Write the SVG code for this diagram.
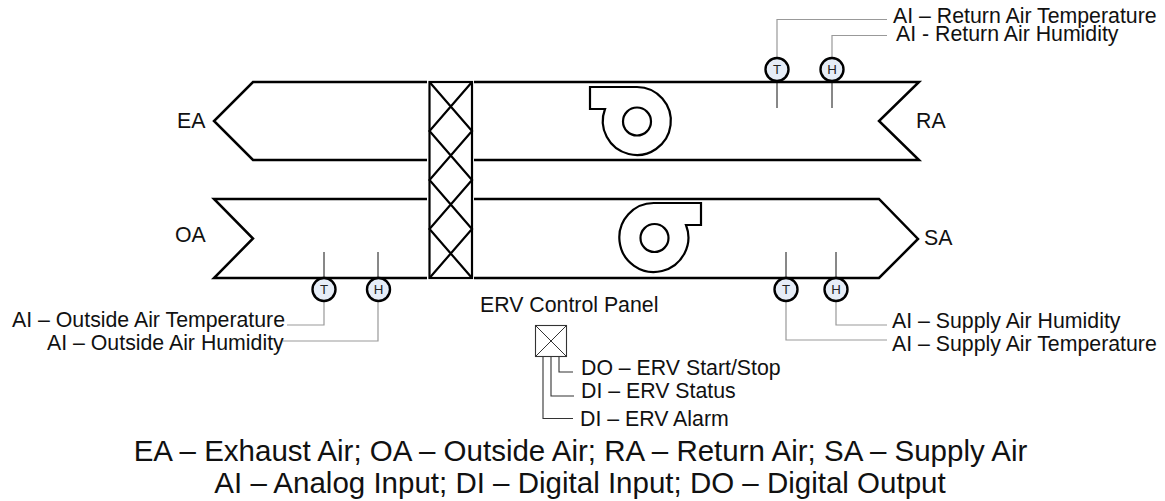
<svg xmlns="http://www.w3.org/2000/svg" width="1165" height="501" viewBox="0 0 1165 501">
<style>
text{font-family:"Liberation Sans",Arial,sans-serif;fill:#111;font-size:21.3px}
.duct{fill:none;stroke:#000;stroke-width:2.5;stroke-linejoin:miter}
.fan{fill:none;stroke:#000;stroke-width:2.2}
.ex{fill:#fff;stroke:#000;stroke-width:2.2}
.probe{fill:none;stroke:#111;stroke-width:1}
.lead{fill:none;stroke:#999;stroke-width:1.2}
.dark{fill:none;stroke:#333;stroke-width:1.1}
.s{fill:#e6edf7;stroke:#000;stroke-width:2.4}
.sl{font-size:13.3px;text-anchor:middle;fill:#222}
.big{font-size:29.5px;text-anchor:middle}
</style>
<rect width="1165" height="501" fill="#fff"/>
<g id="connectors">
<path class="lead" d="M777 57V19.500H887"/>
<path class="lead" d="M832 57V35.500H887"/>
<path class="lead" d="M324 301V325H287"/>
<path class="lead" d="M378 301V341H283"/>
<path class="lead" d="M836 301V325H887"/>
<path class="lead" d="M786 301V340H887"/>
<path class="probe" d="M777 82V108M832 82V108M324 278V252M378 278V252M786 278V252M836 278V252"/>
<path class="dark" d="M559 356V372H573M551 356V396H574M543 356V418.500H573"/>
</g>
<g id="exhaust-duct"><path class="duct" d="M427 82H253L214 121L253 160H427"/></g>
<g id="return-duct"><path class="duct" d="M474 82H919L879 121L919 160H474"/></g>
<g id="outside-duct"><path class="duct" d="M427 199H214L253 238.500L214 278H427"/></g>
<g id="supply-duct"><path class="duct" d="M474 199H879L918 239L879 278H474"/></g>
<g id="exchanger">
<rect class="ex" x="429.500" y="82" width="42.500" height="196"/>
<path class="fan" d="M429.500 82L472 131L429.500 180L472 229L429.500 278M472 82L429.500 131L472 180L429.500 229L472 278"/>
</g>
<g id="return-fan">
<path class="fan" d="M590 87H637A34 34 0 1 1 605 109H590Z"/>
<circle class="fan" cx="637" cy="121.500" r="14"/>
</g>
<g id="supply-fan">
<path class="fan" d="M701 203H654.500A34.500 34.500 0 1 0 686 225H701Z"/>
<circle class="fan" cx="654.500" cy="238" r="14"/>
</g>
<g id="sensor-ra-t"><circle class="s" cx="777" cy="69.500" r="11.500"/><text class="sl" x="777" y="74">T</text></g>
<g id="sensor-ra-h"><circle class="s" cx="832" cy="69.500" r="11.500"/><text class="sl" x="832" y="74">H</text></g>
<g id="sensor-oa-t"><circle class="s" cx="324" cy="289.500" r="11.500"/><text class="sl" x="324" y="294">T</text></g>
<g id="sensor-oa-h"><circle class="s" cx="378.500" cy="289.500" r="11.500"/><text class="sl" x="378.500" y="294">H</text></g>
<g id="sensor-sa-t"><circle class="s" cx="786" cy="289.500" r="11.500"/><text class="sl" x="786" y="294">T</text></g>
<g id="sensor-sa-h"><circle class="s" cx="836" cy="289.500" r="11.500"/><text class="sl" x="836" y="294">H</text></g>
<g id="panel">
<rect x="535.500" y="325.500" width="31" height="31" fill="#fff" stroke="#333" stroke-width="1.100"/>
<path d="M535.500 325.500L566.500 356.500M566.500 325.500L535.500 356.500" stroke="#333" stroke-width="1" fill="none"/>
</g>
<g id="labels">
<text x="177" y="128">EA</text>
<text x="175" y="242">OA</text>
<text x="916" y="128">RA</text>
<text x="924" y="245">SA</text>
<text x="893" y="23">AI – Return Air Temperature</text>
<text x="896" y="41">AI - Return Air Humidity</text>
<text x="12" y="327">AI – Outside Air Temperature</text>
<text x="47" y="350">AI – Outside Air Humidity</text>
<text x="892" y="328">AI – Supply Air Humidity</text>
<text x="892" y="351">AI – Supply Air Temperature</text>
<text x="480" y="312">ERV Control Panel</text>
<text x="581" y="375">DO – ERV Start/Stop</text>
<text x="581" y="398">DI – ERV Status</text>
<text x="580" y="426">DI – ERV Alarm</text>
<text class="big" x="580.500" y="461">EA – Exhaust Air; OA – Outside Air; RA – Return Air; SA – Supply Air</text>
<text class="big" x="580" y="493">AI – Analog Input; DI – Digital Input; DO – Digital Output</text>
</g>
</svg>
